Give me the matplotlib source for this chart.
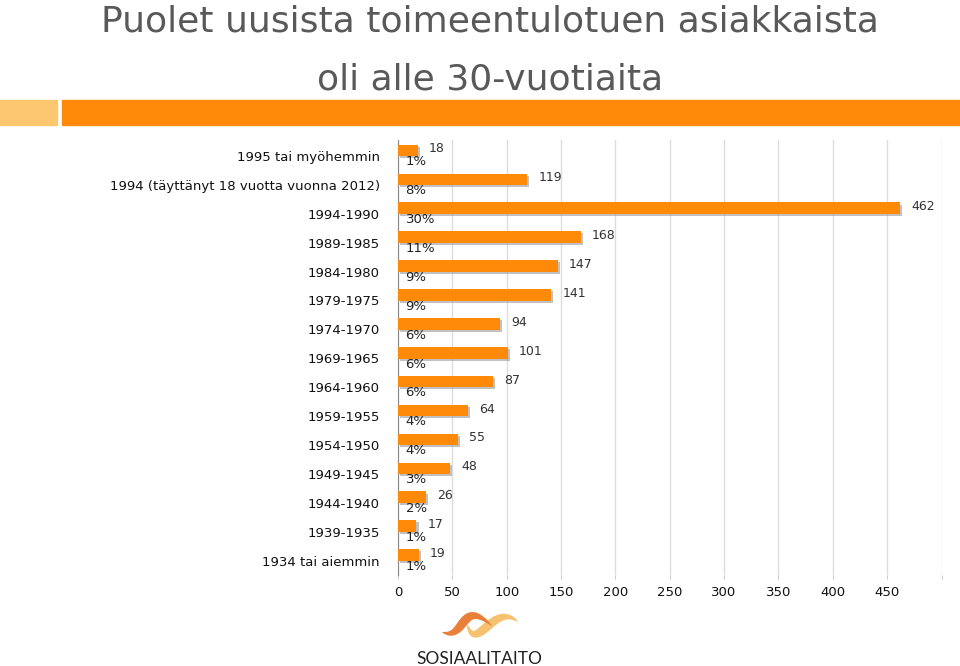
import numpy as np
import matplotlib.pyplot as plt
import matplotlib.patheffects as pe
from matplotlib.patches import Polygon, Rectangle

categories = ['1995 tai myöhemmin', '1994 (täyttänyt 18 vuotta vuonna 2012)',
              '1994-1990', '1989-1985', '1984-1980', '1979-1975', '1974-1970',
              '1969-1965', '1964-1960', '1959-1955', '1954-1950', '1949-1945',
              '1944-1940', '1939-1935', '1934 tai aiemmin']
counts = [18, 119, 462, 168, 147, 141, 94, 101, 87, 64, 55, 48, 26, 17, 19]
shares = ['1%', '8%', '30%', '11%', '9%', '9%', '6%', '6%', '6%', '4%', '4%',
          '3%', '2%', '1%', '1%']
xticks = [0, 50, 100, 150, 200, 250, 300, 350, 400, 450, 500]

orange = '#FF8A0A'

fig = plt.figure(figsize=(9.6, 6.66), dpi=100)

# title
fig.text(0.51, 1 - 32 / 666, 'Puolet uusista toimeentulotuen asiakkaista', ha='center',
         va='baseline', fontsize=26, color='#595959')
fig.text(0.51, 1 - 89 / 666, 'oli alle 30-vuotiaita', ha='center', va='baseline',
         fontsize=26, color='#595959')

# orange band under the title
fig.patches.append(Rectangle((0, 0.812), 57 / 960, 0.038, transform=fig.transFigure,
                             color='#FDC770', zorder=0))
fig.patches.append(Rectangle((62 / 960, 0.812), 1, 0.038, transform=fig.transFigure,
                             color=orange, zorder=0))

ax = fig.add_axes([398 / 960, 1 - 575 / 666, 543.5 / 960, 435 / 666])
ypos = list(range(len(categories)))
bars = ax.barh([y - 0.19 for y in ypos], counts, height=0.4, color=orange, zorder=3)
for b in bars:
    b.set_path_effects([pe.SimplePatchShadow(offset=(1.5, -1.5), shadow_rgbFace='#999999', alpha=0.6),
                        pe.Normal()])

for y, c, s in zip(ypos, counts, shares):
    ax.annotate(str(c), (c, y - 0.24), xytext=(8, 0), textcoords='offset points',
                ha='left', va='center', fontsize=9, color='#333333', zorder=4)
    ax.text(7, y + 0.2, s, ha='left', va='center', fontsize=9.5, color='#222222', zorder=4)

ax.set_xlim(0, 500)
ax.set_ylim(14.5, -0.55)
ax.set_yticks(ypos)
ax.set_yticklabels(categories, fontsize=9.5, color='#111111')
ax.set_xticks(xticks)
ax.set_xticklabels([str(t) for t in xticks[:-1]] + [''], fontsize=9.5, color='#111111')
ax.tick_params(axis='y', length=0, pad=13)
ax.tick_params(axis='x', length=3, color='#cccccc', pad=5)
ax.grid(axis='x', color='#dddddd', linewidth=1, zorder=0)
for side in ['top', 'right', 'bottom']:
    ax.spines[side].set_visible(False)
ax.spines['left'].set_color('#888888')

# logo: two tapered swooshes, drawn in pixel coordinates
lx = fig.add_axes([430 / 960, 1 - 650 / 666, 100 / 960, 45 / 666])
lx.set_xlim(430, 530)
lx.set_ylim(650, 605)
lx.axis('off')


def swoosh(p0, p1, p2, p3, width):
    t = np.linspace(0, 1, 80)[:, None]
    pts = ((1 - t) ** 3 * np.array(p0) + 3 * (1 - t) ** 2 * t * np.array(p1)
           + 3 * (1 - t) * t ** 2 * np.array(p2) + t ** 3 * np.array(p3))
    d = np.gradient(pts, axis=0)
    n = np.column_stack([-d[:, 1], d[:, 0]])
    n /= np.linalg.norm(n, axis=1)[:, None]
    w = width * np.sin(np.pi * t[:, 0]) ** 0.7 / 2
    return np.vstack([pts + n * w[:, None], (pts - n * w[:, None])[::-1]])


lx.add_patch(Polygon(swoosh((467, 624), (476, 656), (494, 600), (518, 622), 9),
                     facecolor='#F6C26E', edgecolor='none'))
lx.add_patch(Polygon(swoosh((442, 632), (466, 642), (460, 596), (492, 626), 9),
                     facecolor='#E8803A', edgecolor='none'))
fig.text(479 / 960, 1 - 659 / 666, 'SOSIAALITAITO', ha='center', va='center',
         fontsize=12.5, color='#222222', family='Lato')

fig.savefig('out.png', dpi=100)
